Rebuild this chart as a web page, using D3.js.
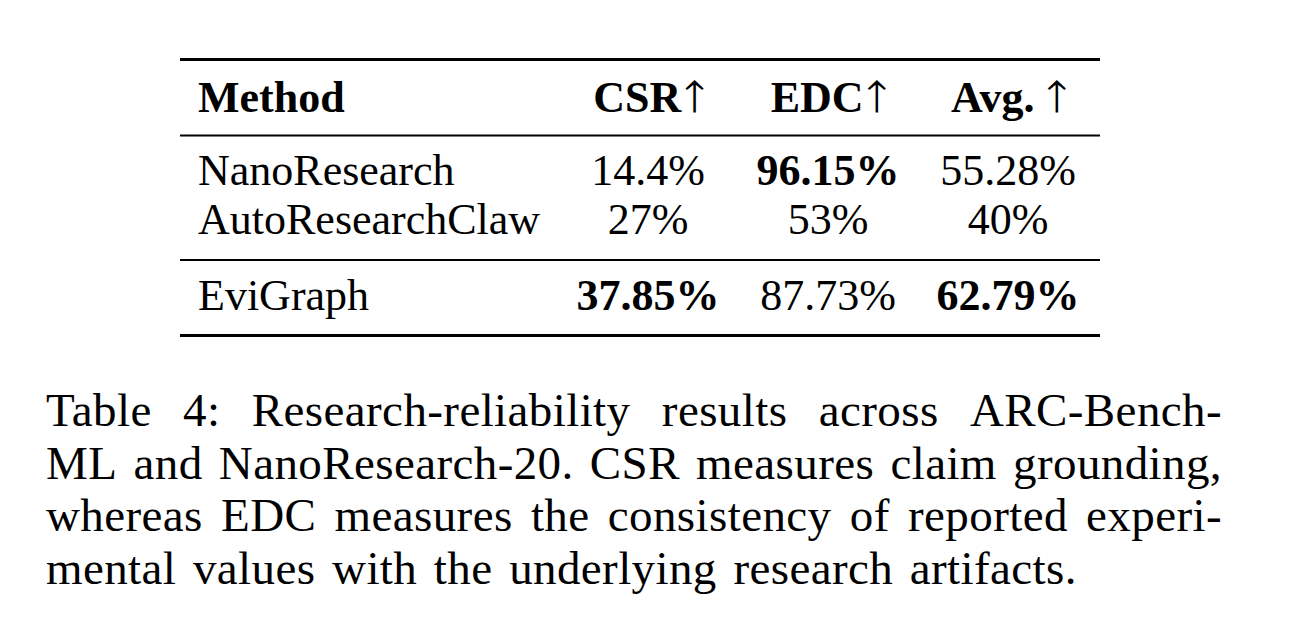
<!DOCTYPE html>
<html>
<head>
<meta charset="utf-8">
<script src="https://cdn.jsdelivr.net/npm/d3@7"></script>
<style>
    body { margin: 0; background: #fff; }
    svg { display: block; }
</style>
</head>
<body>
<svg id="table-svg" width="1294" height="630"></svg>
<script>
// table data
var headers = ["Method", "CSR", "EDC", "Avg."];
var methods = ["NanoResearch", "AutoResearchClaw", "EviGraph"];
var groups = [0, 0, 1];
var csr = [14.4, 27, 37.85];
var edc = [96.15, 53, 87.73];
var avg = [55.28, 40, 62.79];

var captionLines = [
    "Table 4: Research-reliability results across ARC-Bench-",
    "ML and NanoResearch-20. CSR measures claim grounding,",
    "whereas EDC measures the consistency of reported experi-",
    "mental values with the underlying research artifacts."
];

var SERIF = "Liberation Serif";

function build_table()
{
    var svg = d3.select("#table-svg");
    var metrics = [csr, edc, avg];

    var left = 180, right = 1100;
    var headY = 111.5, firstRow = 185, rowStep = 49, groupGap = 27;

    var x = d3.scalePoint()
        .domain(headers.slice(1))
        .range([648, 1008]);

    var rowY = function(i) { return firstRow + i * rowStep + groups[i] * groupGap; };

    // rules: top, under header, between groups, bottom
    var rules = [
        {y: 59.5, w: 3},
        {y: 135.5, w: 1.8},
        {y: (rowY(1) + rowY(2)) / 2 - 12, w: 1.8},
        {y: 335.5, w: 3}
    ];
    svg.selectAll("line.rule")
        .data(rules)
        .enter().append("line")
        .attr("class", "rule")
        .attr("x1", left).attr("x2", right)
        .attr("y1", function(d) { return d.y; })
        .attr("y2", function(d) { return d.y; })
        .attr("stroke", "#000")
        .attr("stroke-width", function(d) { return d.w; });

    // header
    svg.append("text")
        .attr("x", 198).attr("y", headY)
        .attr("font-family", SERIF)
        .attr("font-size", 44).attr("font-weight", "bold")
        .text(headers[0]);

    var head = svg.selectAll("text.head")
        .data(headers.slice(1))
        .enter().append("text")
        .attr("class", "head")
        .attr("x", function(d) { return x(d) + 1; })
        .attr("y", headY)
        .attr("text-anchor", "middle")
        .attr("font-family", SERIF)
        .attr("font-size", 44);
    head.append("tspan")
        .attr("font-weight", "bold")
        .text(function(d) { return d; });
    head.append("tspan")
        .attr("dx", function(d) { return d === "Avg." ? 12 : 3; })
        .attr("font-family", "FreeSerif")
        .text("\u2191");

    // body rows
    svg.selectAll("text.method")
        .data(methods)
        .enter().append("text")
        .attr("class", "method")
        .attr("x", 198)
        .attr("y", function(d, i) { return rowY(i); })
        .attr("font-family", SERIF)
        .attr("font-size", 44)
        .text(function(d) { return d; });

    metrics.forEach(function(vals, c) {
        var best = d3.max(vals);
        svg.selectAll("text.col" + c)
            .data(vals)
            .enter().append("text")
            .attr("class", "col" + c)
            .attr("x", x(headers[c + 1]))
            .attr("y", function(d, i) { return rowY(i); })
            .attr("text-anchor", "middle")
            .attr("font-family", SERIF)
            .attr("font-size", 44)
            .attr("font-weight", function(d) { return d === best ? "bold" : "normal"; })
            .text(function(d) { return d + "%"; });
    });
}

function build_caption()
{
    var svg = d3.select("#table-svg");
    var capLeft = 46, capRight = 1222, capTop = 426, capStep = 52.5;

    captionLines.forEach(function(line, li) {
        var y = capTop + li * capStep;
        if (li === captionLines.length - 1) {
            // last line keeps natural (TeX-ish, a bit loose) spacing
            svg.append("text")
                .attr("x", capLeft).attr("y", y)
                .attr("font-family", SERIF)
                .attr("font-size", 47)
                .attr("letter-spacing", 0.4)
                .attr("word-spacing", 4.5)
                .text(line);
            return;
        }
        // justified line: spread words across the full width
        var words = line.split(" ");
        var nodes = words.map(function(w) {
            return svg.append("text")
                .attr("y", y)
                .attr("font-family", SERIF)
                .attr("font-size", 47)
                .attr("letter-spacing", 0.4)
                .text(w);
        });
        var widths = nodes.map(function(n) { return n.node().getComputedTextLength(); });
        var gap = (capRight - capLeft - d3.sum(widths)) / (words.length - 1);
        var cx = capLeft;
        nodes.forEach(function(n, i) {
            n.attr("x", cx);
            cx += widths[i] + gap;
        });
    });
}

build_table();
build_caption();
</script>
</body>
</html>
